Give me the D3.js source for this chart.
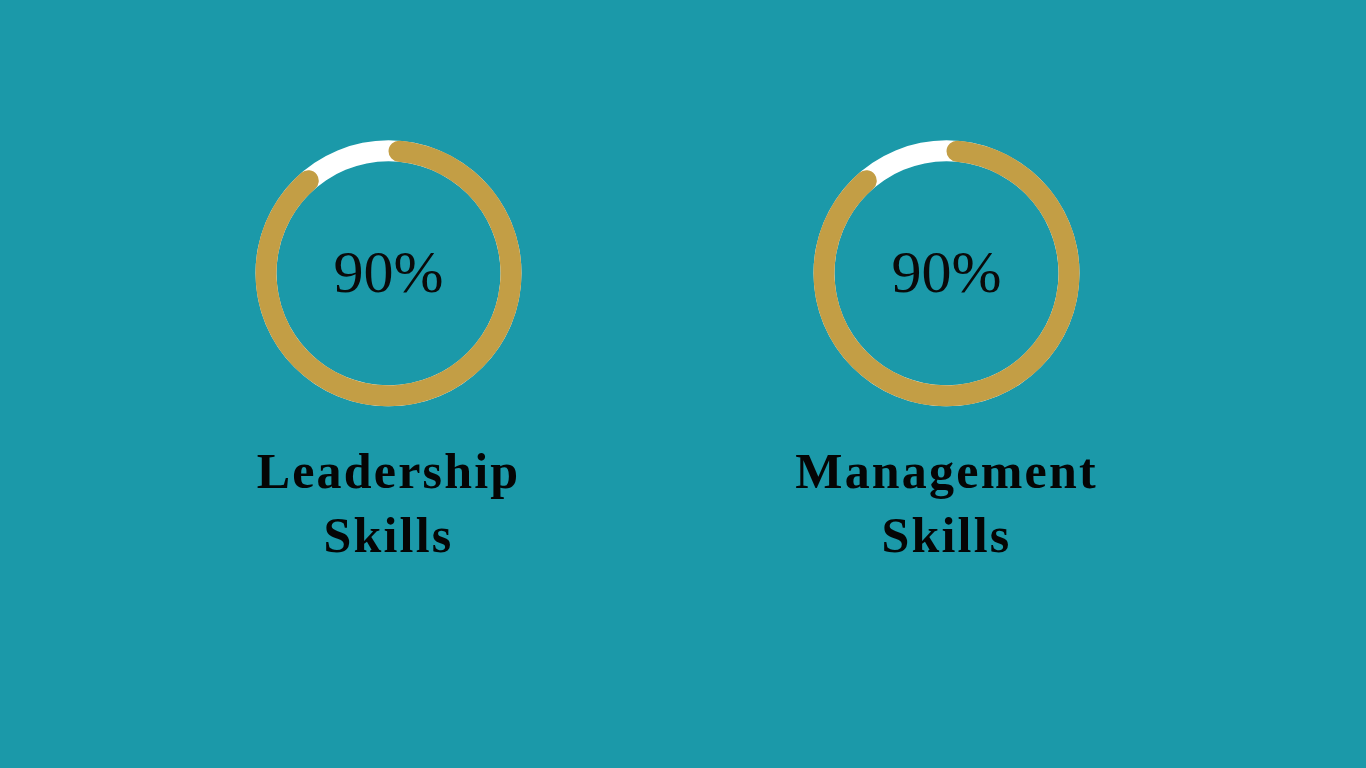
<!DOCTYPE html>
<html>
<head>
<meta charset="utf-8">
<script src="https://cdn.jsdelivr.net/npm/d3@7"></script>
<style>
  html, body { margin: 0; padding: 0; background: #1B99A9; }
  svg { display: block; }
</style>
</head>
<body>
<svg id="chart" width="1366" height="768"></svg>
<script>
// Data
const skills = ["Leadership Skills", "Management Skills"];
const labelLines = [["Leadership", "Skills"], ["Management", "Skills"]];
const values = [90, 90];
const valueLabels = ["90%", "90%"];

const W = 1366, H = 768;
const svg = d3.select("#chart");
svg.append("rect").attr("width", W).attr("height", H).attr("fill", "#1B99A9");

const x = d3.scalePoint().domain(skills).range([388.5, 946.5]);
const pct = d3.scaleLinear().domain([0, 100]).range([0, 2 * Math.PI]);

const cy = 273.3, rOuter = 133, rInner = 112;
const track = d3.arc().innerRadius(rInner).outerRadius(rOuter).startAngle(0).endAngle(2 * Math.PI);
const prog = d3.arc().innerRadius(rInner).outerRadius(rOuter).cornerRadius((rOuter - rInner) / 2).startAngle(0);

const g = svg.selectAll("g.skill").data(skills).enter().append("g")
  .attr("class", "skill")
  .attr("transform", d => `translate(${x(d)},${cy})`);

g.append("path").attr("d", track()).attr("fill", "#FFFFFF");
g.append("path").attr("d", (d, i) => prog({ endAngle: pct(values[i]) })).attr("fill", "#C39E45");

g.append("text")
  .text((d, i) => valueLabels[i])
  .attr("text-anchor", "middle")
  .attr("y", 19)
  .attr("font-family", "'Liberation Serif', 'DejaVu Serif', serif")
  .attr("font-size", 60)
  .attr("fill", "#0A0A0A");

const lab = svg.selectAll("text.lab").data(skills).enter().append("text")
  .attr("class", "lab")
  .attr("text-anchor", "middle")
  .attr("font-family", "'Liberation Serif', 'DejaVu Serif', serif")
  .attr("font-weight", "bold")
  .attr("font-size", 50)
  .attr("letter-spacing", 2.2)
  .attr("fill", "#050505");

lab.each(function(d, i) {
  const t = d3.select(this);
  labelLines[i].forEach((line, j) => {
    t.append("tspan").attr("x", x(d)).attr("y", 488 + j * 64).text(line);
  });
});
</script>
</body>
</html>
